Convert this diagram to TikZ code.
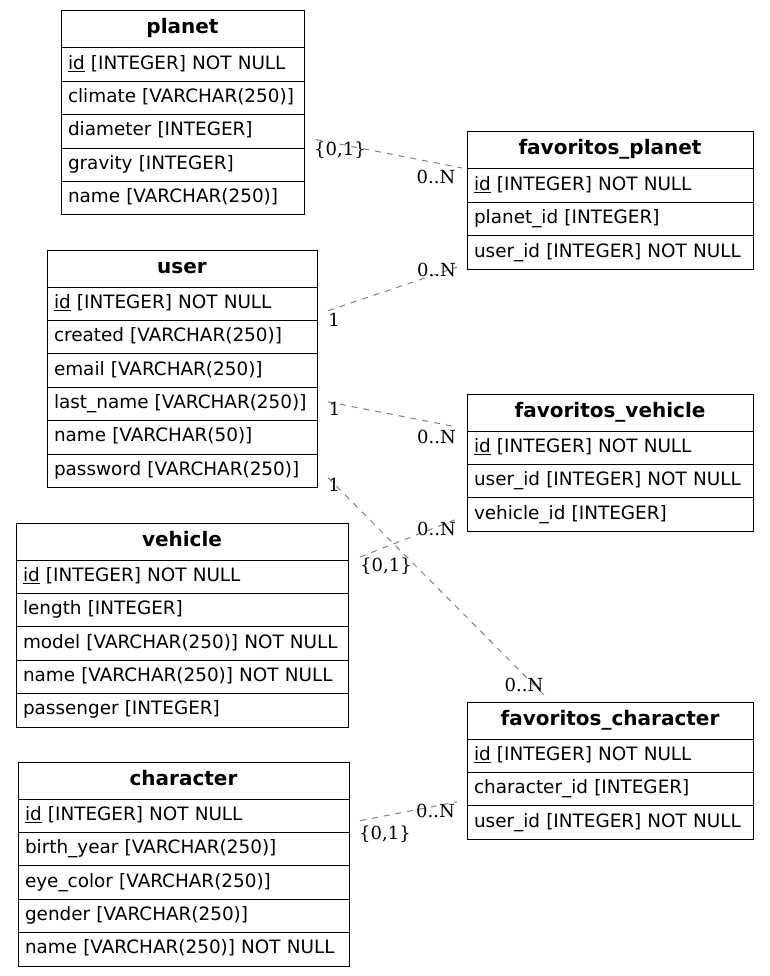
\documentclass[tikz,border=0pt]{standalone}
\usepackage{fontspec}
\setmainfont{DejaVu Sans}
\newfontfamily\cardfont{DejaVu Serif}
\usetikzlibrary{positioning,calc}

\tikzset{
  tbl/.style={draw, line width=1pt, outer sep=0pt, inner ysep=0pt, inner xsep=7pt,
    text height=13pt, text depth=4pt},
  head/.style={tbl, anchor=north west, minimum height=37pt, align=center,
    font=\fontsize{20}{22}\selectfont\bfseries},
  fld/.style={tbl, minimum height=33.4pt, align=left,
    font=\fontsize{18.4}{20}\selectfont},
  rel/.style={draw=gray, line width=1pt, dash pattern=on 6pt off 6pt},
  card/.style={font=\cardfont\fontsize{18}{20}\selectfont, inner sep=0pt}
}

\begin{document}
\begin{tikzpicture}[x=1pt, y=-1pt]
	\useasboundingbox (0,0) rectangle (769,976);
	% planet
	\node[head, text width=229pt] (planet0) at (61,11) {planet};
	\node[fld, text width=229pt, below=0pt of planet0] (planet1) {\underline{id} [INTEGER] NOT NULL};
	\node[fld, text width=229pt, below=0pt of planet1] (planet2) {climate [VARCHAR(250)]};
	\node[fld, text width=229pt, below=0pt of planet2] (planet3) {diameter [INTEGER]};
	\node[fld, text width=229pt, below=0pt of planet3] (planet4) {gravity [INTEGER]};
	\node[fld, text width=229pt, below=0pt of planet4] (planet5) {name [VARCHAR(250)]};
	% favoritos_planet
	\node[head, text width=272pt] (fplanet0) at (467,132) {favoritos\_planet};
	\node[fld, text width=272pt, below=0pt of fplanet0] (fplanet1) {\underline{id} [INTEGER] NOT NULL};
	\node[fld, text width=272pt, below=0pt of fplanet1] (fplanet2) {planet\_id [INTEGER]};
	\node[fld, text width=272pt, below=0pt of fplanet2] (fplanet3) {user\_id [INTEGER] NOT NULL};
	% user
	\node[head, text width=256pt] (user0) at (47,250) {user};
	\node[fld, text width=256pt, below=0pt of user0] (user1) {\underline{id} [INTEGER] NOT NULL};
	\node[fld, text width=256pt, below=0pt of user1] (user2) {created [VARCHAR(250)]};
	\node[fld, text width=256pt, below=0pt of user2] (user3) {email [VARCHAR(250)]};
	\node[fld, text width=256pt, below=0pt of user3] (user4) {last\_name [VARCHAR(250)]};
	\node[fld, text width=256pt, below=0pt of user4] (user5) {name [VARCHAR(50)]};
	\node[fld, text width=256pt, below=0pt of user5] (user6) {password [VARCHAR(250)]};
	% favoritos_vehicle
	\node[head, text width=272pt] (fvehicle0) at (467,394) {favoritos\_vehicle};
	\node[fld, text width=272pt, below=0pt of fvehicle0] (fvehicle1) {\underline{id} [INTEGER] NOT NULL};
	\node[fld, text width=272pt, below=0pt of fvehicle1] (fvehicle2) {user\_id [INTEGER] NOT NULL};
	\node[fld, text width=272pt, below=0pt of fvehicle2] (fvehicle3) {vehicle\_id [INTEGER]};
	% vehicle
	\node[head, text width=318pt] (vehicle0) at (16,523) {vehicle};
	\node[fld, text width=318pt, below=0pt of vehicle0] (vehicle1) {\underline{id} [INTEGER] NOT NULL};
	\node[fld, text width=318pt, below=0pt of vehicle1] (vehicle2) {length [INTEGER]};
	\node[fld, text width=318pt, below=0pt of vehicle2] (vehicle3) {model [VARCHAR(250)] NOT NULL};
	\node[fld, text width=318pt, below=0pt of vehicle3] (vehicle4) {name [VARCHAR(250)] NOT NULL};
	\node[fld, text width=318pt, below=0pt of vehicle4] (vehicle5) {passenger [INTEGER]};
	% favoritos_character
	\node[head, text width=272pt] (fcharacter0) at (467,702) {favoritos\_character};
	\node[fld, text width=272pt, below=0pt of fcharacter0] (fcharacter1) {\underline{id} [INTEGER] NOT NULL};
	\node[fld, text width=272pt, below=0pt of fcharacter1] (fcharacter2) {character\_id [INTEGER]};
	\node[fld, text width=272pt, below=0pt of fcharacter2] (fcharacter3) {user\_id [INTEGER] NOT NULL};
	% character
	\node[head, text width=317pt] (character0) at (18,762) {character};
	\node[fld, text width=317pt, below=0pt of character0] (character1) {\underline{id} [INTEGER] NOT NULL};
	\node[fld, text width=317pt, below=0pt of character1] (character2) {birth\_year [VARCHAR(250)]};
	\node[fld, text width=317pt, below=0pt of character2] (character3) {eye\_color [VARCHAR(250)]};
	\node[fld, text width=317pt, below=0pt of character3] (character4) {gender [VARCHAR(250)]};
	\node[fld, text width=317pt, below=0pt of character4] (character5) {name [VARCHAR(250)] NOT NULL};

	% relations
	\draw[rel] ($(planet3.east)+(12,8)$) -- ($(fplanet0.south west)+(-5,-1)$);
	\draw[rel] ($(user1.east)+(11,7)$) -- ($(fplanet3.south west)+(-10,-2)$);
	\draw[rel] ($(user4.east)+(11,-2)$) -- ($(fvehicle0.south west)+(-10,-4)$);
	\draw[rel] ($(user6.east)+(11,7)$) -- ($(fcharacter0.north west)+(78,-6)$);
	\draw[rel] ($(vehicle0.south east)+(12,-3)$) -- ($(fvehicle3.west)+(-10,4.5)$);
	\draw[rel] ($(character1.east)+(11,5)$) -- ($(fcharacter3.north west)+(-10,-4)$);

	% cardinalities
	\node[card] (c1a) at (340,150) {\{0,1\}};
	\node[card] (c1b) at (436,177) {0..N};
	\node[card] (c2a) at (334,319.5) {1};
	\node[card] (c2b) at (436.5,270) {0..N};
	\node[card] (c3a) at (334.5,408.5) {1};
	\node[card] (c3b) at (436.5,436.5) {0..N};
	\node[card] (c4a) at (334,485) {1};
	\node[card] (c4b) at (524,684.5) {0..N};
	\node[card] (c5a) at (386,566) {\{0,1\}};
	\node[card] (c5b) at (436.5,528.5) {0..N};
	\node[card] (c6a) at (385,834) {\{0,1\}};
	\node[card] (c6b) at (435.5,811) {0..N};
\end{tikzpicture}
\end{document}
